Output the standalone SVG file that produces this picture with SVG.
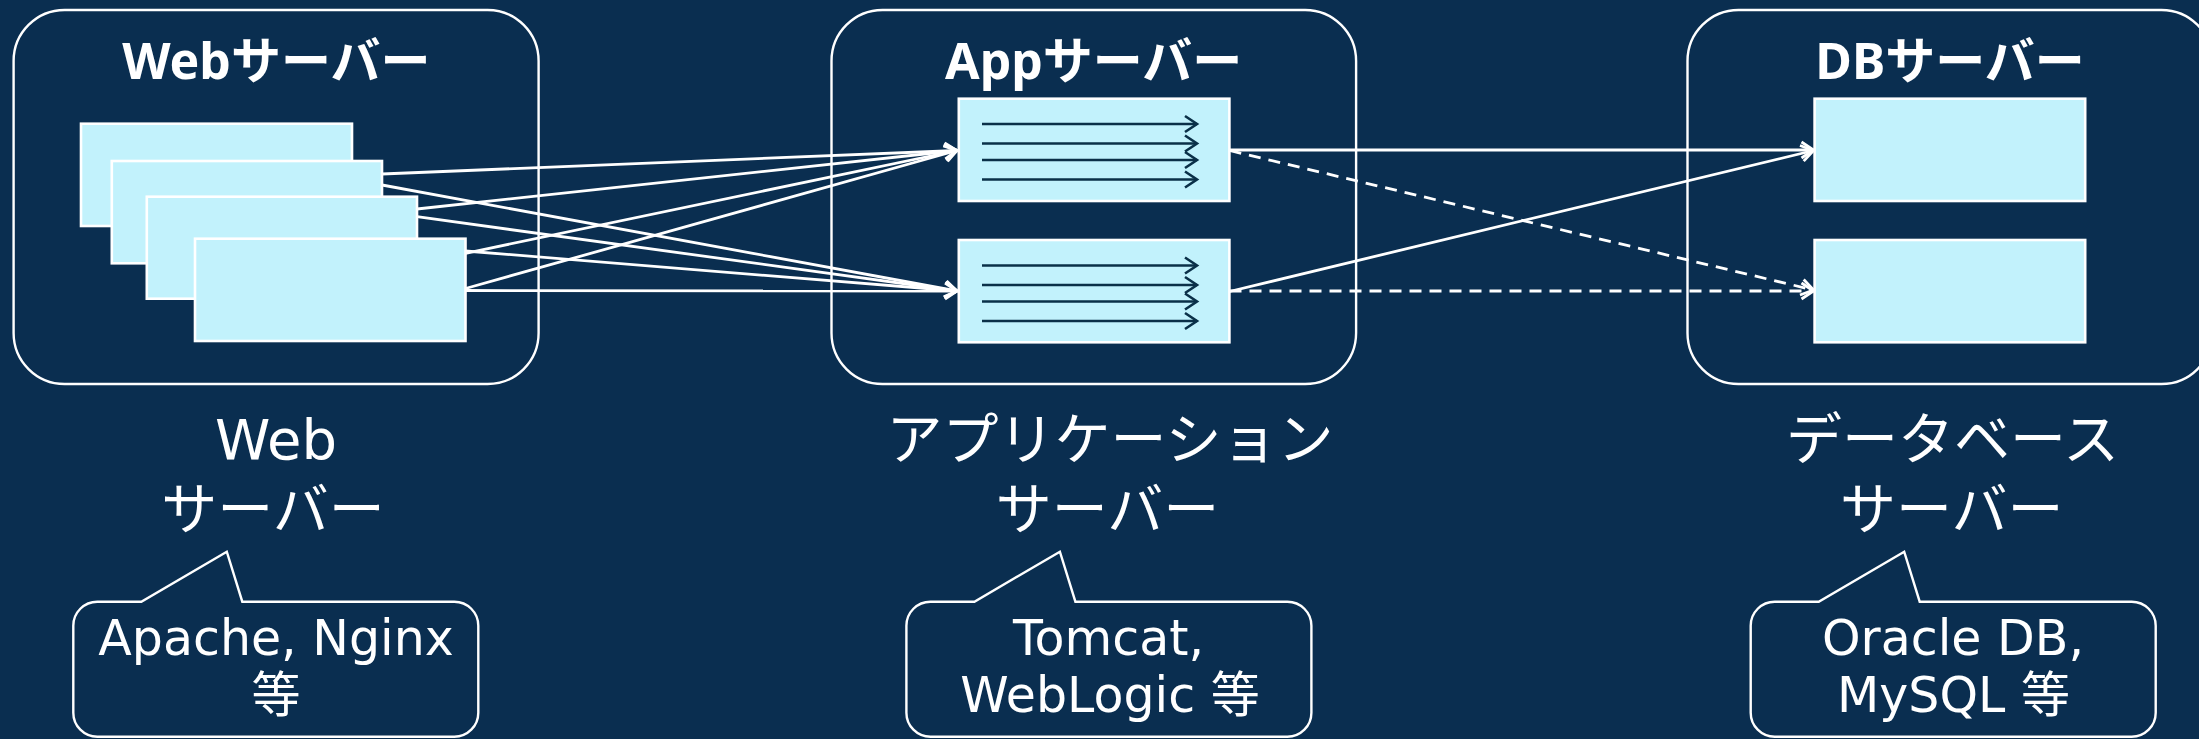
<svg xmlns="http://www.w3.org/2000/svg" width="2199" height="739" viewBox="0 0 2199 739">
  <style>
    .bg { fill: #0A2E50; }
    .container { fill: none; stroke: #FFFFFF; stroke-width: 2.4; }
    .box { fill: #C2F2FC; stroke: #FFFFFF; stroke-width: 2.6; }
    .title { font-family: "Noto Sans", "Noto Sans CJK JP", sans-serif; font-weight: 700; font-size: 50px; fill: #FFFFFF; text-anchor: middle; }
    .label { font-family: "DejaVu Sans", "Noto Sans CJK JP", sans-serif; font-size: 56px; fill: #FFFFFF; text-anchor: middle; }
    .note { font-family: "DejaVu Sans", "Noto Sans CJK JP", sans-serif; font-size: 49px; fill: #FFFFFF; text-anchor: middle; }
    .callout { fill: none; stroke: #FFFFFF; stroke-width: 2.4; stroke-linejoin: miter; }
    .link { fill: none; stroke: #FFFFFF; stroke-width: 2.8; marker-end: url(#arrow); }
    .dashed { stroke-dasharray: 12 8; }
    .thread { fill: none; stroke: #0A3048; stroke-width: 2.7; marker-end: url(#thread-head); }
  </style>
  <defs>
    <marker id="arrow" markerUnits="userSpaceOnUse" viewBox="-15 -11 18 22" refX="0" refY="0" markerWidth="18" markerHeight="22" orient="auto">
      <path d="M-12,-8 L0,0 L-12,8" fill="none" stroke="#FFFFFF" stroke-width="2.8" stroke-dasharray="none"/>
    </marker>
    <marker id="thread-head" markerUnits="userSpaceOnUse" viewBox="-15 -11 18 22" refX="0" refY="0" markerWidth="18" markerHeight="22" orient="auto">
      <path d="M-12,-8 L0,0 L-12,8" fill="none" stroke="#0A3048" stroke-width="2.6"/>
    </marker>
    <!-- speech bubble: 405 x 135 body with a pointer up-left -->
    <path id="bubble" d="M24,0 H68 L153.5,-50 L169,0 H381 A24,24 0 0 1 405,24 V111 A24,24 0 0 1 381,135 H24 A24,24 0 0 1 0,111 V24 A24,24 0 0 1 24,0 Z"/>
    <!-- four worker threads inside an app process -->
    <g id="threads">
      <line class="thread" x1="982" y1="0" x2="1197" y2="0"/>
      <line class="thread" x1="982" y1="19.5" x2="1197" y2="19.5"/>
      <line class="thread" x1="982" y1="36" x2="1197" y2="36"/>
      <line class="thread" x1="982" y1="55.5" x2="1197" y2="55.5"/>
    </g>
  </defs>

  <rect class="bg" x="0" y="0" width="2199" height="739"/>

  <!-- Web tier -->
  <g id="web-server">
    <rect class="container" x="13.6" y="10" width="525" height="374" rx="51" ry="51"/>
    <text class="title" x="276.3" y="79">Webサーバー</text>
    <rect class="box" x="81" y="123.7" width="271" height="102.3"/>
    <rect class="box" x="111.8" y="161" width="270.2" height="102.3"/>
    <rect class="box" x="146.8" y="196.7" width="270.2" height="102"/>
    <rect class="box" x="195" y="238.7" width="270.5" height="102.3"/>
  </g>

  <!-- Application tier -->
  <g id="app-server">
    <rect class="container" x="831.5" y="10" width="524.6" height="374" rx="51" ry="51"/>
    <text class="title" x="1093.7" y="79">Appサーバー</text>
    <rect class="box" x="958.8" y="98.7" width="270.6" height="102.3"/>
    <use href="#threads" transform="translate(0,124)"/>
    <rect class="box" x="958.8" y="240" width="270.6" height="102.3"/>
    <use href="#threads" transform="translate(0,265.5)"/>
  </g>

  <!-- Database tier -->
  <g id="db-server">
    <rect class="container" x="1687.5" y="10" width="525" height="374" rx="51" ry="51"/>
    <text class="title" x="1950" y="79">DBサーバー</text>
    <rect class="box" x="1814.6" y="98.7" width="270.6" height="102.3"/>
    <rect class="box" x="1814.6" y="240" width="270.6" height="102.3"/>
  </g>

  <!-- Requests between tiers -->
  <g id="connectors">
    <line class="link" x1="382" y1="174" x2="957" y2="150.5"/>
    <line class="link" x1="382" y1="185" x2="957" y2="291"/>
    <line class="link" x1="417" y1="209" x2="957" y2="150.5"/>
    <line class="link" x1="417" y1="216.7" x2="957" y2="291"/>
    <line class="link" x1="465.5" y1="253.3" x2="957" y2="150.5"/>
    <line class="link" x1="465.5" y1="251" x2="957" y2="291"/>
    <line class="link" x1="465.5" y1="288.5" x2="957" y2="150.5"/>
    <line class="link" x1="465.5" y1="290.5" x2="957" y2="291"/>

    <line class="link" x1="1229.5" y1="150" x2="1813.5" y2="150"/>
    <line class="link dashed" x1="1229.5" y1="150.5" x2="1813.5" y2="290"/>
    <line class="link" x1="1229.5" y1="291.5" x2="1813.5" y2="150.5"/>
    <line class="link dashed" x1="1229.5" y1="291" x2="1813.5" y2="291"/>
  </g>

  <!-- Tier names -->
  <g id="web-label">
    <text class="label" x="276" y="459">Web</text>
    <text class="label" x="273" y="528.5">サーバー</text>
  </g>
  <g id="app-label">
    <text class="label" x="1110" y="458.5">アプリケーション</text>
    <text class="label" x="1107.5" y="528.5">サーバー</text>
  </g>
  <g id="db-label">
    <text class="label" x="1952.5" y="458.5">データベース</text>
    <text class="label" x="1951.7" y="528.5">サーバー</text>
  </g>

  <!-- Product examples -->
  <g id="web-products">
    <use href="#bubble" class="callout" transform="translate(73.3,601.7)"/>
    <text class="note" x="276" y="654.5">Apache, Nginx</text>
    <text class="note" x="276" y="711.5">等</text>
  </g>
  <g id="app-products">
    <use href="#bubble" class="callout" transform="translate(906.4,601.7)"/>
    <text class="note" x="1108.5" y="655">Tomcat,</text>
    <text class="note" x="1110" y="712">WebLogic 等</text>
  </g>
  <g id="db-products">
    <use href="#bubble" class="callout" transform="translate(1750.7,601.7)"/>
    <text class="note" x="1953" y="655">Oracle DB,</text>
    <text class="note" x="1953.5" y="712">MySQL 等</text>
  </g>
</svg>
